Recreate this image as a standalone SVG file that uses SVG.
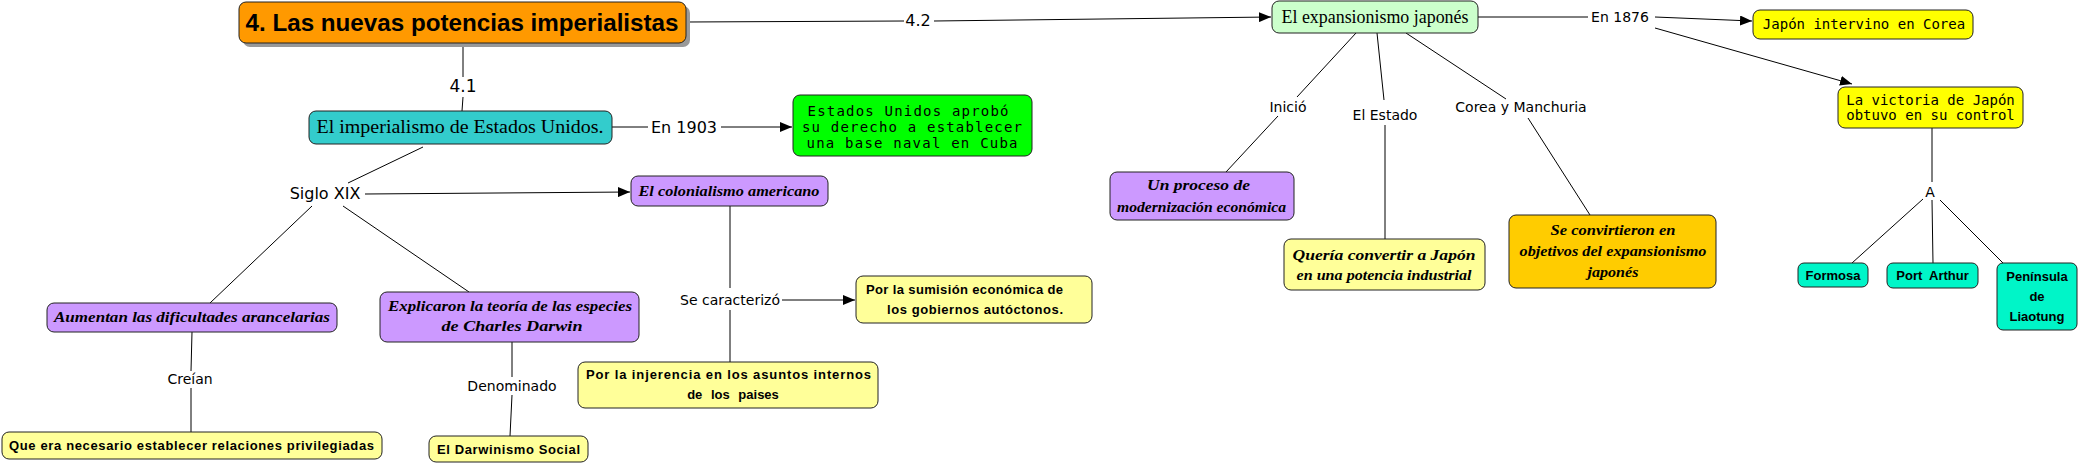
<svg xmlns="http://www.w3.org/2000/svg" width="2083" height="466" viewBox="0 0 2083 466">
<style>
.bx{stroke:#222;stroke-width:1}
.ln{stroke:#000;stroke-width:1;fill:none}
.lbl{font-family:"DejaVu Sans",sans-serif;text-anchor:middle;fill:#000}
.deco{font-family:"Liberation Serif",serif;font-weight:bold;font-style:italic;font-size:15px;text-anchor:middle;fill:#000}
.bold{font-family:"Liberation Sans",sans-serif;font-weight:bold;font-size:13px;text-anchor:middle;fill:#000;white-space:pre}
.mono{font-family:"DejaVu Sans Mono",monospace;font-size:14px;text-anchor:middle;fill:#000}
.serif{font-family:"Liberation Serif",serif;text-anchor:middle;fill:#000}
</style>
<defs>
<marker id="ah" markerUnits="userSpaceOnUse" markerWidth="12" markerHeight="10" refX="12" refY="5" orient="auto">
<path d="M0,0 L12,5 L0,10 z" fill="#000"/>
</marker>
</defs>
<rect width="2083" height="466" fill="#fff"/>
<g id="connectors">
<line class="ln" x1="463" y1="44" x2="463" y2="77"/>
<text class="lbl" x="463" y="92" font-size="17">4.1</text>
<line class="ln" x1="463" y1="97" x2="462" y2="111"/>
<line class="ln" x1="612" y1="127" x2="648" y2="127"/>
<text class="lbl" x="684" y="133" font-size="16">En 1903</text>
<line class="ln" x1="721" y1="127" x2="792" y2="127" marker-end="url(#ah)"/>
<line class="ln" x1="423" y1="147" x2="348" y2="183"/>
<text class="lbl" x="325" y="199" font-size="16">Siglo XIX</text>
<line class="ln" x1="365" y1="194" x2="630" y2="192" marker-end="url(#ah)"/>
<line class="ln" x1="312" y1="206" x2="210" y2="303"/>
<line class="ln" x1="343" y1="206" x2="469" y2="292"/>
<line class="ln" x1="192" y1="332" x2="191" y2="371"/>
<text class="lbl" x="190" y="384" font-size="14">Creían</text>
<line class="ln" x1="191" y1="388" x2="191" y2="432"/>
<line class="ln" x1="512" y1="342" x2="512" y2="377"/>
<text class="lbl" x="512" y="391" font-size="14">Denominado</text>
<line class="ln" x1="512" y1="395" x2="510" y2="436"/>
<line class="ln" x1="730" y1="206" x2="730" y2="288"/>
<text class="lbl" x="730" y="305" font-size="14">Se caracterizó</text>
<line class="ln" x1="730" y1="310" x2="730" y2="362"/>
<line class="ln" x1="782" y1="300" x2="855" y2="300" marker-end="url(#ah)"/>
<line class="ln" x1="687" y1="22" x2="904" y2="21"/>
<text class="lbl" x="918" y="26" font-size="16">4.2</text>
<line class="ln" x1="934" y1="21" x2="1271" y2="17" marker-end="url(#ah)"/>
<line class="ln" x1="1478" y1="17" x2="1588" y2="17"/>
<text class="lbl" x="1620" y="22" font-size="14">En 1876</text>
<line class="ln" x1="1655" y1="17" x2="1752" y2="21" marker-end="url(#ah)"/>
<line class="ln" x1="1655" y1="28" x2="1852" y2="84" marker-end="url(#ah)"/>
<line class="ln" x1="1356" y1="33" x2="1297" y2="97"/>
<text class="lbl" x="1288" y="112" font-size="14">Inició</text>
<line class="ln" x1="1278" y1="116" x2="1226" y2="172"/>
<line class="ln" x1="1377" y1="33" x2="1384" y2="100"/>
<text class="lbl" x="1385" y="120" font-size="14">El Estado</text>
<line class="ln" x1="1385" y1="125" x2="1385" y2="239"/>
<line class="ln" x1="1406" y1="33" x2="1506" y2="99"/>
<text class="lbl" x="1521" y="112" font-size="14">Corea y Manchuria</text>
<line class="ln" x1="1528" y1="118" x2="1590" y2="215"/>
<line class="ln" x1="1932" y1="128" x2="1932" y2="182"/>
<text class="lbl" x="1930" y="197" font-size="14">A</text>
<line class="ln" x1="1923" y1="199" x2="1852" y2="263"/>
<line class="ln" x1="1932" y1="200" x2="1933" y2="263"/>
<line class="ln" x1="1940" y1="200" x2="2003" y2="263"/>
</g>
<g id="n-main">
<rect x="243" y="6" width="447" height="41" rx="7" fill="#999"/>
<rect class="bx" x="239" y="2" width="447" height="41" rx="7" fill="#FF9900"/>
<text x="462" y="31" font-family="Liberation Sans, sans-serif" font-weight="bold" font-size="24" text-anchor="middle" textLength="433" lengthAdjust="spacingAndGlyphs">4. Las nuevas potencias imperialistas</text>
</g>
<g id="n-eeuu">
<rect class="bx" x="309" y="111" width="303" height="33" rx="7" fill="#33CCCC"/>
<text class="serif" x="460" y="133" font-size="18" textLength="287" lengthAdjust="spacingAndGlyphs">El imperialismo de Estados Unidos.</text>
</g>
<g id="n-cuba">
<rect class="bx" x="793" y="95" width="239" height="61" rx="7" fill="#00FF00"/>
<text class="mono" x="908" y="116" textLength="201" lengthAdjust="spacing">Estados Unidos aprobó</text>
<text class="mono" x="912" y="132" textLength="220" lengthAdjust="spacing">su derecho a establecer</text>
<text class="mono" x="912" y="148" textLength="211" lengthAdjust="spacing">una base naval en Cuba</text>
</g>
<g id="n-colonialismo">
<rect class="bx" x="631" y="176" width="197" height="30" rx="7" fill="#CC99FF"/>
<text class="deco" x="729" y="196" textLength="181" lengthAdjust="spacingAndGlyphs">El colonialismo americano</text>
</g>
<g id="n-aumentan">
<rect class="bx" x="47" y="303" width="290" height="29" rx="7" fill="#CC99FF"/>
<text class="deco" x="192" y="322" textLength="276" lengthAdjust="spacingAndGlyphs">Aumentan las dificultades arancelarias</text>
</g>
<g id="n-darwin">
<rect class="bx" x="380" y="292" width="259" height="50" rx="7" fill="#CC99FF"/>
<text class="deco" x="510" y="311" textLength="244" lengthAdjust="spacingAndGlyphs">Explicaron la teoría de las especies</text>
<text class="deco" x="512" y="331" textLength="141" lengthAdjust="spacingAndGlyphs">de Charles Darwin</text>
</g>
<g id="n-relaciones">
<rect class="bx" x="2" y="432" width="380" height="27" rx="7" fill="#FFFF99"/>
<text class="bold" x="191.5" y="450" textLength="365" lengthAdjust="spacing">Que era necesario establecer relaciones privilegiadas</text>
</g>
<g id="n-social">
<rect class="bx" x="429" y="436" width="159" height="26" rx="7" fill="#FFFF99"/>
<text class="bold" x="508.5" y="454" textLength="143" lengthAdjust="spacing">El Darwinismo Social</text>
</g>
<g id="n-sumision">
<rect class="bx" x="856" y="276" width="236" height="47" rx="7" fill="#FFFF99"/>
<text class="bold" x="964.5" y="294" textLength="197" lengthAdjust="spacing">Por la sumisión económica de</text>
<text class="bold" x="975" y="314" textLength="176" lengthAdjust="spacing">los gobiernos autóctonos.</text>
</g>
<g id="n-injerencia">
<rect class="bx" x="578" y="362" width="300" height="46" rx="7" fill="#FFFF99"/>
<text class="bold" x="728.5" y="379" textLength="285" lengthAdjust="spacing">Por la injerencia en los asuntos internos</text>
<text class="bold" x="733" y="399" word-spacing="5">de los paises</text>
</g>
<g id="n-japon">
<rect class="bx" x="1272" y="1" width="206" height="32" rx="7" fill="#CCFFCC"/>
<text class="serif" x="1375" y="23" font-size="18" textLength="187" lengthAdjust="spacingAndGlyphs">El expansionismo japonés</text>
</g>
<g id="n-modernizacion">
<rect class="bx" x="1110" y="172" width="184" height="48" rx="7" fill="#CC99FF"/>
<text class="deco" x="1198.5" y="190" textLength="103" lengthAdjust="spacingAndGlyphs">Un proceso de</text>
<text class="deco" x="1201.5" y="212" textLength="169" lengthAdjust="spacingAndGlyphs">modernización económica</text>
</g>
<g id="n-industrial">
<rect class="bx" x="1284" y="239" width="201" height="51" rx="7" fill="#FFFF99"/>
<text class="deco" x="1384" y="260" textLength="183" lengthAdjust="spacingAndGlyphs">Quería convertir a Japón</text>
<text class="deco" x="1384" y="280" textLength="175" lengthAdjust="spacingAndGlyphs">en una potencia industrial</text>
</g>
<g id="n-objetivos">
<rect class="bx" x="1509" y="215" width="207" height="73" rx="7" fill="#FFCC00"/>
<text class="deco" x="1613" y="235" textLength="125" lengthAdjust="spacingAndGlyphs">Se convirtieron en</text>
<text class="deco" x="1613" y="256" textLength="187" lengthAdjust="spacingAndGlyphs">objetivos del expansionismo</text>
<text class="deco" x="1613" y="277" textLength="51" lengthAdjust="spacingAndGlyphs">japonés</text>
</g>
<g id="n-corea">
<rect class="bx" x="1753" y="10" width="220" height="29" rx="7" fill="#FFFF00"/>
<text class="mono" x="1864" y="29">Japón intervino en Corea</text>
</g>
<g id="n-victoria">
<rect class="bx" x="1838" y="87" width="185" height="41" rx="7" fill="#FFFF00"/>
<text class="mono" x="1930.5" y="105">La victoria de Japón</text>
<text class="mono" x="1930.5" y="120">obtuvo en su control</text>
</g>
<g id="n-formosa">
<rect class="bx" x="1798" y="263" width="70" height="24" rx="6" fill="#00F5C8"/>
<text class="bold" x="1833" y="280">Formosa</text>
</g>
<g id="n-portarthur">
<rect class="bx" x="1887" y="263" width="91" height="25" rx="6" fill="#00F5C8"/>
<text class="bold" x="1932.5" y="280">Port  Arthur</text>
</g>
<g id="n-liaotung">
<rect class="bx" x="1997" y="263" width="80" height="67" rx="6" fill="#00F5C8"/>
<text class="bold" x="2037" y="281">Península</text>
<text class="bold" x="2037" y="301">de</text>
<text class="bold" x="2037" y="321">Liaotung</text>
</g>
</svg>
